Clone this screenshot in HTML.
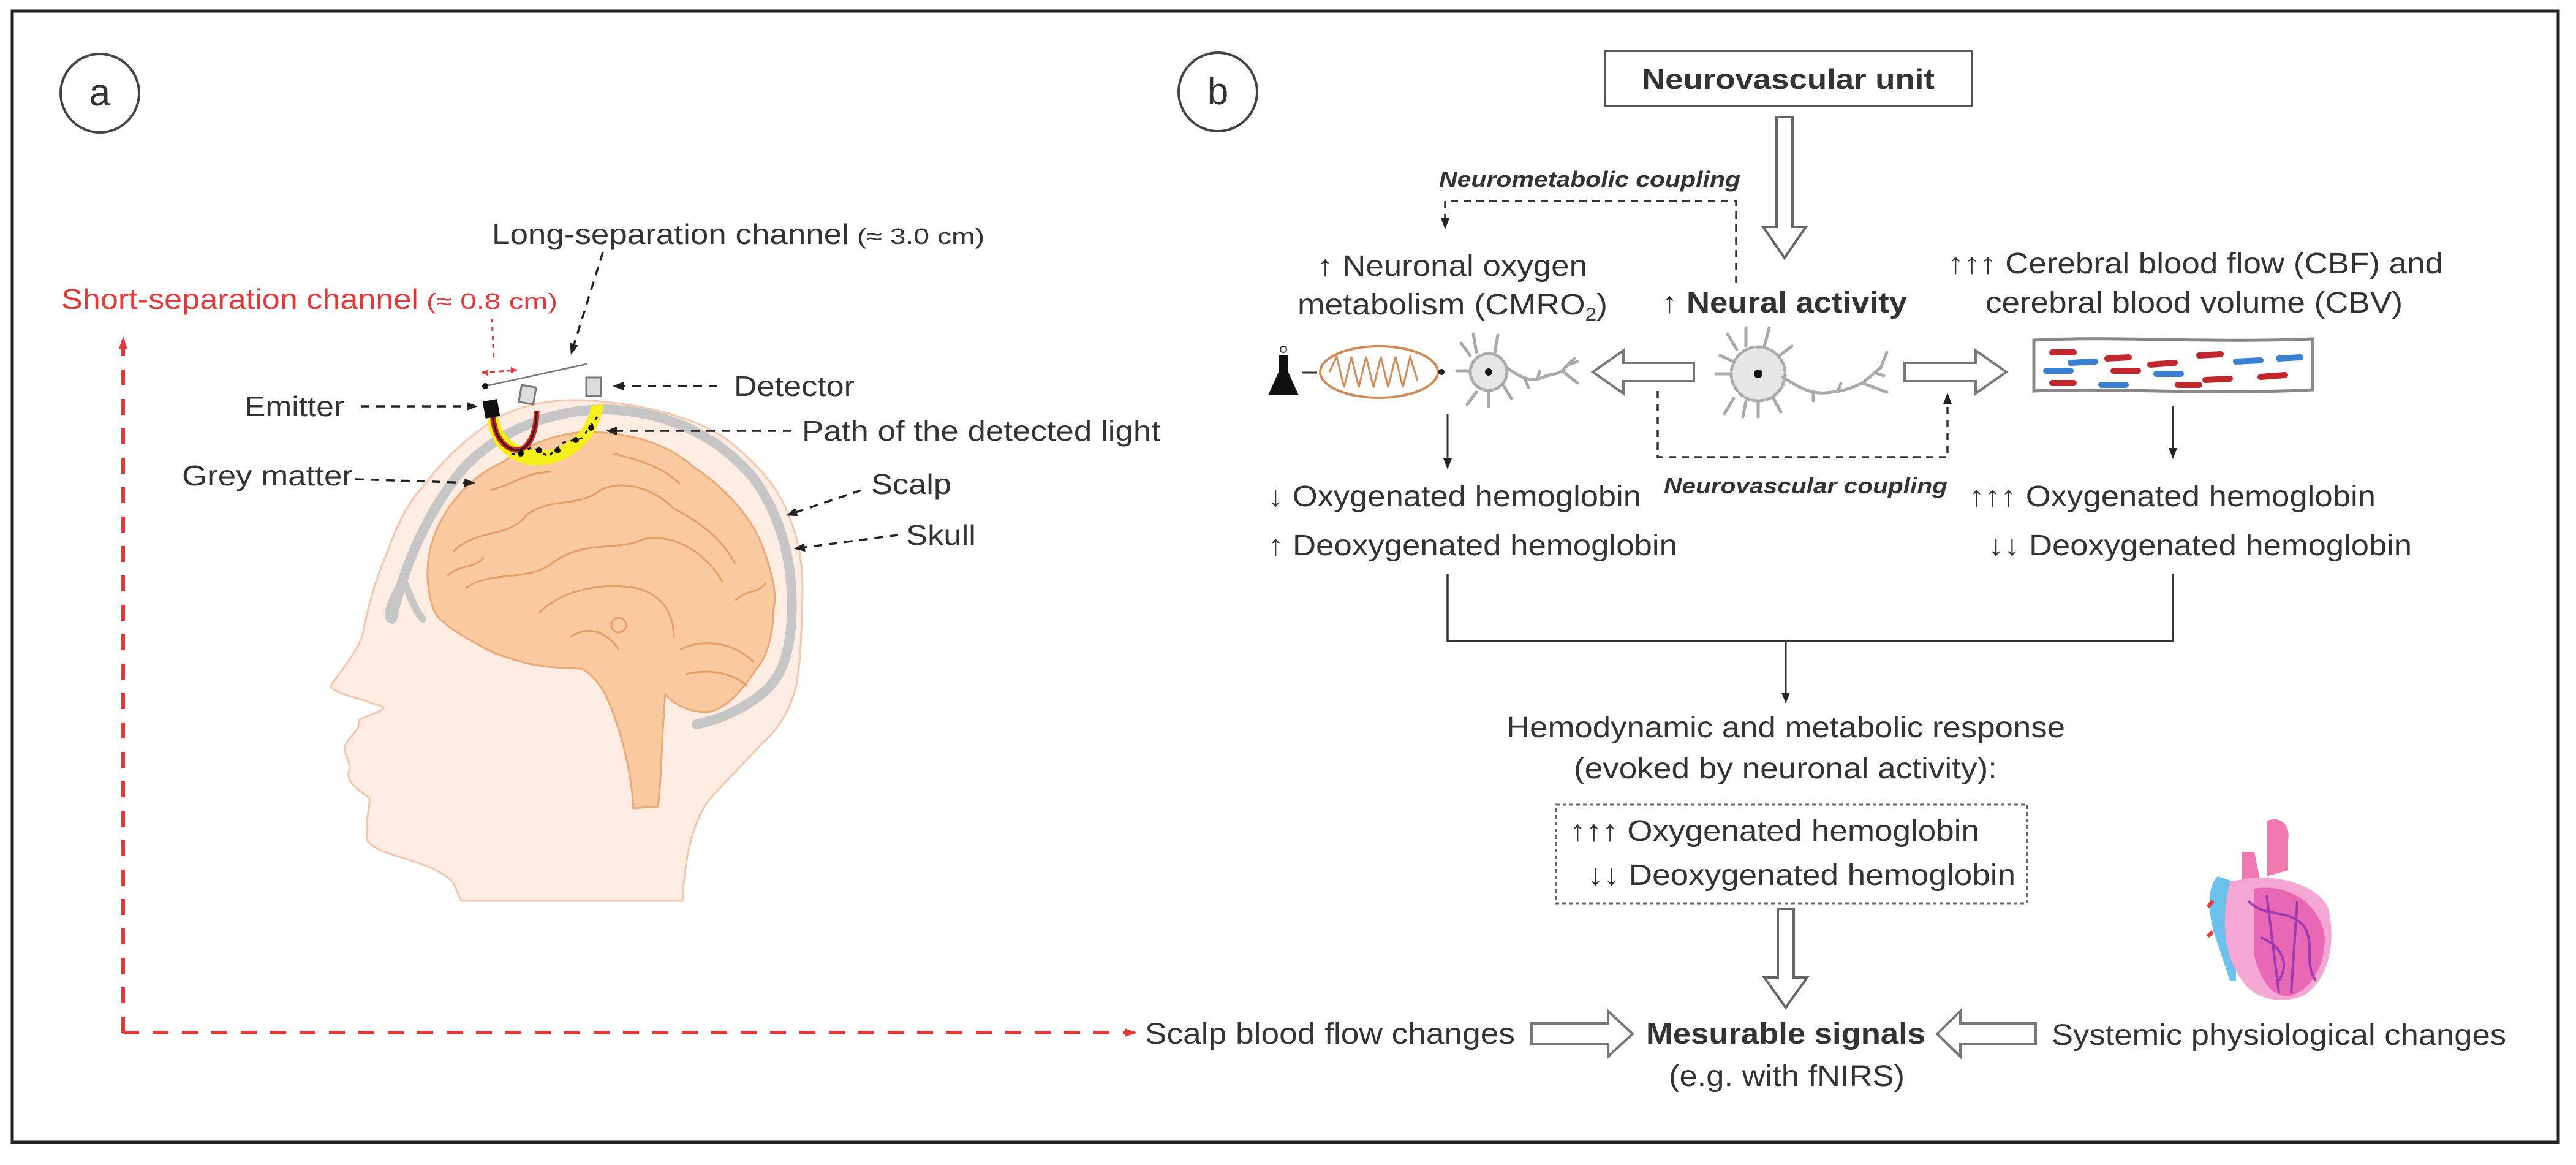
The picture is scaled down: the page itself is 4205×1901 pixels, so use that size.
<!DOCTYPE html>
<html><head><meta charset="utf-8"><style>
html,body{margin:0;padding:0;background:#fff;}
svg{display:block;}
text{font-family:"Liberation Sans",sans-serif;fill:#333;}
</style></head><body>
<svg width="4205" height="1901" viewBox="0 0 4205 1901" xmlns="http://www.w3.org/2000/svg">
<defs>
<marker id="abk" markerWidth="18" markerHeight="18" refX="14" refY="9" orient="auto" markerUnits="userSpaceOnUse"><path d="M0,2 L18,9 L0,16 z" fill="#222"/></marker>
<marker id="ar" markerWidth="20" markerHeight="20" refX="16" refY="10" orient="auto" markerUnits="userSpaceOnUse"><path d="M0,3 L20,10 L0,17 z" fill="#e03a3a"/></marker>
</defs>
<rect x="20" y="18" width="4156" height="1846" fill="none" stroke="#222" stroke-width="5"/>

<circle cx="163" cy="152" r="64" fill="none" stroke="#444" stroke-width="4"/>
<text x="163" y="172" font-size="62" text-anchor="middle">a</text>
<circle cx="1988" cy="150" r="64" fill="none" stroke="#444" stroke-width="4"/>
<text x="1988" y="170" font-size="62" text-anchor="middle">b</text>

<path d="M753,1470 L740,1440 C700,1400 620,1400 600,1372 C595,1340 605,1315 603,1302 C585,1290 565,1275 569,1260 C575,1245 560,1230 563,1218 C570,1200 590,1190 586,1175 C605,1165 626,1160 626,1154 C590,1140 540,1130 540,1119 C560,1090 585,1060 592,1035 C600,990 615,940 632,902 C650,850 670,815 689,796 C730,740 780,700 821,677 C880,650 940,650 988,656 C1080,665 1150,690 1189,719 C1240,760 1275,800 1292,853 C1310,900 1312,950 1309,993 C1308,1050 1305,1100 1298,1126 C1285,1170 1265,1195 1246,1211 C1210,1250 1180,1280 1160,1302 C1130,1340 1118,1400 1114,1470 Z" fill="#fdece2" stroke="#f0c8b0" stroke-width="3"/>
<path d="M640,1010 C660,920 700,830 760,760 C830,690 920,668 990,668 C1090,672 1170,710 1230,780 C1280,850 1296,930 1292,1010 C1288,1080 1270,1110 1246,1130 C1210,1160 1170,1175 1137,1182" fill="none" stroke="#c6c6c6" stroke-width="16" stroke-linecap="round"/>
<path d="M650,960 C640,980 630,1000 636,1010 M660,950 C670,975 680,1000 690,1010" fill="none" stroke="#c6c6c6" stroke-width="12" stroke-linecap="round"/>
<path d="M698,930 C700,850 760,780 821,754 C870,720 920,705 959,705 C1030,705 1090,725 1131,761 C1190,800 1230,850 1246,895 C1262,940 1268,970 1263,993 C1262,1040 1250,1075 1235,1091 C1210,1130 1185,1155 1160,1161 C1130,1165 1100,1150 1086,1133 C1080,1200 1080,1270 1074,1316 L1034,1319 C1030,1250 1010,1180 988,1133 C975,1110 960,1095 948,1091 C910,1090 890,1088 867,1084 C830,1075 800,1065 776,1049 C740,1030 712,1010 707,993 C700,970 697,950 698,930 Z" fill="#f9c9a0" stroke="#eaa978" stroke-width="3"/>
<g fill="none" stroke="#e59a62" stroke-width="3" opacity="0.9">
<path d="M740,900 C780,860 830,880 860,840 C900,810 940,830 980,800 C1020,780 1070,800 1100,830 C1140,850 1180,880 1200,920"/>
<path d="M760,960 C800,930 860,950 900,920 C950,880 1010,900 1050,880 C1100,870 1150,900 1180,950"/>
<path d="M880,1000 C920,960 990,950 1040,960 C1080,970 1100,1000 1100,1040"/>
<path d="M1110,1060 C1150,1040 1200,1050 1230,1080 M1120,1100 C1160,1090 1200,1100 1220,1120"/>
<path d="M800,800 C840,790 860,770 900,770 M1000,740 C1040,750 1080,760 1110,790"/>
<path d="M730,940 C750,920 770,930 790,910 M1200,980 C1220,960 1240,970 1250,950 M930,1040 C960,1020 990,1030 1010,1060"/>
<circle cx="1010" cy="1020" r="12"/>
</g>
<path d="M796,684 C800,740 850,765 890,758 C940,752 980,710 985,660 L965,662 C958,700 930,730 892,735 C850,738 818,715 815,682 Z" fill="#f5ef1a"/>
<path d="M804,677 C808,725 835,736 846,734 C866,732 876,700 876,670" fill="none" stroke="#d42020" stroke-width="9"/>
<path d="M804,677 C808,725 835,736 846,734 C866,732 876,700 876,670" fill="none" stroke="#222" stroke-width="3"/>
<path d="M835,742 L870,730 L895,745 L920,722 L950,715 L975,680" fill="none" stroke="#111" stroke-width="3" stroke-dasharray="6,8"/>
<g fill="#111"><circle cx="850" cy="740" r="5"/><circle cx="880" cy="735" r="5"/><circle cx="910" cy="735" r="5"/><circle cx="940" cy="718" r="5"/><circle cx="965" cy="698" r="5"/></g>
<rect x="790" y="653" width="24" height="28" fill="#111" transform="rotate(-10 802 667)"/>
<rect x="849" y="630" width="24" height="28" fill="#ddd" stroke="#777" stroke-width="3" transform="rotate(10 861 644)"/>
<rect x="957" y="616" width="24" height="30" fill="#ddd" stroke="#777" stroke-width="3"/>
<line x1="792" y1="630" x2="958" y2="594" stroke="#777" stroke-width="2.5"/>
<circle cx="792" cy="630" r="5" fill="#111"/>
<line x1="786" y1="608" x2="844" y2="604" stroke="#e03a3a" stroke-width="3" stroke-dasharray="8,6"/>
<path d="M786,608 l10,-5 v10 z M844,604 l-10,-5 v10z" fill="#e03a3a"/>
<line x1="803" y1="520" x2="806" y2="585" stroke="#e03a3a" stroke-width="3" stroke-dasharray="6,8"/>

<text x="803" y="398" font-size="46" textLength="583" lengthAdjust="spacingAndGlyphs">Long-separation channel</text>
<text x="1399" y="398" font-size="36" textLength="208" lengthAdjust="spacingAndGlyphs">(≈ 3.0 cm)</text>
<line x1="984" y1="412" x2="933" y2="575" stroke="#222" stroke-width="3.5" stroke-dasharray="14,11" marker-end="url(#abk)"/>
<text x="100" y="504" font-size="46" style="fill:#e03a3a" textLength="583" lengthAdjust="spacingAndGlyphs">Short-separation channel</text>
<text x="696" y="504" font-size="36" style="fill:#e03a3a" textLength="214" lengthAdjust="spacingAndGlyphs">(≈ 0.8 cm)</text>

<text x="399" y="679" font-size="46" textLength="163" lengthAdjust="spacingAndGlyphs">Emitter</text>
<line x1="589" y1="663" x2="776" y2="663" stroke="#222" stroke-width="3.5" stroke-dasharray="14,11" marker-end="url(#abk)"/>
<text x="1198" y="646" font-size="46" textLength="197" lengthAdjust="spacingAndGlyphs">Detector</text>
<line x1="1171" y1="630" x2="1004" y2="630" stroke="#222" stroke-width="3.5" stroke-dasharray="14,11" marker-end="url(#abk)"/>
<text x="1309" y="719" font-size="46" textLength="585" lengthAdjust="spacingAndGlyphs">Path of the detected light</text>
<line x1="1292" y1="703" x2="993" y2="703" stroke="#222" stroke-width="3.5" stroke-dasharray="14,11" marker-end="url(#abk)"/>
<text x="297" y="792" font-size="46" textLength="279" lengthAdjust="spacingAndGlyphs">Grey matter</text>
<line x1="580" y1="782" x2="772" y2="788" stroke="#222" stroke-width="3.5" stroke-dasharray="14,11" marker-end="url(#abk)"/>
<text x="1422" y="806" font-size="46" textLength="131" lengthAdjust="spacingAndGlyphs">Scalp</text>
<line x1="1406" y1="800" x2="1287" y2="840" stroke="#222" stroke-width="3.5" stroke-dasharray="14,11" marker-end="url(#abk)"/>
<text x="1479" y="889" font-size="46" textLength="114" lengthAdjust="spacingAndGlyphs">Skull</text>
<line x1="1466" y1="873" x2="1300" y2="895" stroke="#222" stroke-width="3.5" stroke-dasharray="14,11" marker-end="url(#abk)"/>

<polyline points="201,1685 201,553" fill="none" stroke="#e03a3a" stroke-width="6" stroke-dasharray="26,22" marker-end="url(#ar)"/>
<polyline points="201,1685 1852,1685" fill="none" stroke="#e03a3a" stroke-width="6" stroke-dasharray="26,22" marker-end="url(#ar)"/>

<rect x="2620" y="83" width="599" height="90" fill="#fff" stroke="#555" stroke-width="4"/>
<text x="2680" y="145" font-size="46" font-weight="bold" textLength="478" lengthAdjust="spacingAndGlyphs">Neurovascular unit</text>
<path d="M2900,191 L2926,191 L2926,370 L2948,370 L2913,421 L2878,370 L2900,370 Z" fill="#fff" stroke="#666" stroke-width="4"/>

<text x="2349" y="305" font-size="36" font-style="italic" font-weight="bold" textLength="492" lengthAdjust="spacingAndGlyphs">Neurometabolic coupling</text>
<polyline points="2834,462 2834,328 2359,328 2359,370" fill="none" stroke="#333" stroke-width="3.5" stroke-dasharray="12,9" marker-end="url(#abk)"/>

<text x="2150" y="450" font-size="48" textLength="441" lengthAdjust="spacingAndGlyphs">↑ Neuronal oxygen</text>
<text x="2118" y="513" font-size="48" textLength="506" lengthAdjust="spacingAndGlyphs">metabolism (CMRO<tspan font-size="30" dy="10">2</tspan><tspan dy="-10">)</tspan></text>
<text x="2712" y="510" font-size="48" textLength="401" lengthAdjust="spacingAndGlyphs">↑ <tspan font-weight="bold">Neural activity</tspan></text>
<text x="3179" y="446" font-size="48" textLength="809" lengthAdjust="spacingAndGlyphs">↑↑↑ Cerebral blood flow (CBF) and</text>
<text x="3241" y="510" font-size="48" textLength="681" lengthAdjust="spacingAndGlyphs">cerebral blood volume (CBV)</text>

<path d="M2088,580 L2102,580 L2102,605 L2120,645 L2070,645 L2088,605 Z" fill="#111"/>
<circle cx="2095" cy="570" r="5" fill="none" stroke="#333" stroke-width="2"/>
<line x1="2125" y1="608" x2="2150" y2="608" stroke="#333" stroke-width="3"/>
<ellipse cx="2251" cy="607" rx="96" ry="42" fill="#fff" stroke="#d08a5a" stroke-width="4"/>
<path d="M2170,607 l12,-25 l12,50 l12,-50 l12,50 l12,-50 l12,50 l12,-50 l12,50 l12,-50 l12,50 l12,-50 l12,40" fill="none" stroke="#d08a5a" stroke-width="3"/>
<circle cx="2353" cy="607" r="5" fill="#222"/>
<!-- small neuron -->
<g fill="none" stroke="#aaa" stroke-width="5" stroke-linecap="round">
<circle cx="2430" cy="607" r="30" fill="#e6e6e6" stroke-dasharray="6,4"/>
<path d="M2400,580 l-15,-20 M2410,575 l-5,-30 M2440,575 l5,-28 M2410,640 l-15,20 M2430,638 l0,25 M2455,630 l12,20 M2398,605 l-20,0"/>
<path d="M2460,600 C2480,615 2500,625 2520,615 C2530,610 2540,612 2550,605 L2570,585 M2550,605 L2575,625 M2560,595 l15,-5 M2490,620 l5,12 M2510,618 l3,-12"/>
</g>
<circle cx="2430" cy="607" r="6" fill="#111"/>
<path d="M2765,592 L2765,622 L2650,622 L2650,642 L2600,607 L2650,572 L2650,592 Z" fill="#fff" stroke="#777" stroke-width="4"/>
<!-- center neuron -->
<g fill="none" stroke="#aaa" stroke-width="5" stroke-linecap="round">
<circle cx="2870" cy="610" r="44" fill="#e6e6e6" stroke-dasharray="7,5"/>
<path d="M2835,570 l-15,-25 M2850,565 l0,-30 M2880,565 l8,-30 M2905,580 l20,-15 M2830,650 l-15,25 M2850,655 l-5,25 M2870,655 l0,25 M2895,650 l12,22 M2826,610 l-25,0 M2830,590 l-22,-10"/>
<path d="M2910,615 C2940,635 2960,645 2990,640 C3010,638 3025,632 3040,625 L3070,600 M3040,625 L3080,640 M3070,600 l10,-25 M2960,642 l0,12 M3000,638 l5,-12 M3060,608 l15,5"/>
</g>
<circle cx="2870" cy="610" r="7" fill="#111"/>
<path d="M3109,592 L3109,622 L3225,622 L3225,642 L3275,607 L3225,572 L3225,592 Z" fill="#fff" stroke="#777" stroke-width="4"/>
<path d="M3320,555 C3450,548 3600,560 3775,553 L3775,636 C3600,645 3450,632 3320,638 Z" fill="#fff" stroke="#888" stroke-width="5"/>
<g stroke-width="10" stroke-linecap="round">
<line x1="3350" y1="575" x2="3385" y2="575" stroke="#c0282d"/><line x1="3380" y1="592" x2="3420" y2="590" stroke="#3a7fd0"/>
<line x1="3440" y1="585" x2="3475" y2="583" stroke="#c0282d"/><line x1="3510" y1="595" x2="3550" y2="592" stroke="#c0282d"/>
<line x1="3590" y1="580" x2="3625" y2="578" stroke="#c0282d"/><line x1="3650" y1="590" x2="3690" y2="588" stroke="#3a7fd0"/>
<line x1="3340" y1="605" x2="3380" y2="605" stroke="#3a7fd0"/><line x1="3450" y1="605" x2="3490" y2="605" stroke="#c0282d"/>
<line x1="3520" y1="610" x2="3560" y2="610" stroke="#3a7fd0"/><line x1="3600" y1="620" x2="3640" y2="618" stroke="#c0282d"/>
<line x1="3350" y1="625" x2="3385" y2="625" stroke="#c0282d"/><line x1="3430" y1="628" x2="3470" y2="628" stroke="#3a7fd0"/>
<line x1="3555" y1="628" x2="3590" y2="628" stroke="#c0282d"/><line x1="3690" y1="615" x2="3730" y2="612" stroke="#c0282d"/>
<line x1="3720" y1="585" x2="3755" y2="583" stroke="#3a7fd0"/>
</g>

<polyline points="2706,638 2706,746 3179,746 3179,645" fill="none" stroke="#333" stroke-width="3.5" stroke-dasharray="12,9" marker-end="url(#abk)"/>
<text x="2716" y="805" font-size="36" font-style="italic" font-weight="bold" textLength="463" lengthAdjust="spacingAndGlyphs">Neurovascular coupling</text>

<line x1="2363" y1="676" x2="2363" y2="762" stroke="#333" stroke-width="3" marker-end="url(#abk)"/>
<line x1="3547" y1="663" x2="3547" y2="745" stroke="#333" stroke-width="3" marker-end="url(#abk)"/>

<text x="2069" y="826" font-size="48" textLength="610" lengthAdjust="spacingAndGlyphs">↓ Oxygenated hemoglobin</text>
<text x="2069" y="906" font-size="48" textLength="669" lengthAdjust="spacingAndGlyphs">↑ Deoxygenated hemoglobin</text>
<text x="3213" y="826" font-size="48" textLength="665" lengthAdjust="spacingAndGlyphs">↑↑↑ Oxygenated hemoglobin</text>
<text x="3245" y="906" font-size="48" textLength="692" lengthAdjust="spacingAndGlyphs">↓↓ Deoxygenated hemoglobin</text>

<polyline points="2363,937 2363,1046 3547,1046 3547,937" fill="none" stroke="#333" stroke-width="3.5"/>
<line x1="2915" y1="1046" x2="2915" y2="1144" stroke="#333" stroke-width="3" marker-end="url(#abk)"/>

<text x="2459" y="1203" font-size="48" textLength="912" lengthAdjust="spacingAndGlyphs">Hemodynamic and metabolic response</text>
<text x="2569" y="1270" font-size="48" textLength="691" lengthAdjust="spacingAndGlyphs">(evoked by neuronal activity):</text>

<rect x="2540" y="1313" width="769" height="161" fill="none" stroke="#666" stroke-width="3" stroke-dasharray="6,5"/>
<text x="2562" y="1372" font-size="48" textLength="669" lengthAdjust="spacingAndGlyphs">↑↑↑ Oxygenated hemoglobin</text>
<text x="2591" y="1444" font-size="48" textLength="699" lengthAdjust="spacingAndGlyphs">↓↓ Deoxygenated hemoglobin</text>

<path d="M2902,1483 L2928,1483 L2928,1595 L2950,1595 L2915,1644 L2880,1595 L2902,1595 Z" fill="#fff" stroke="#666" stroke-width="4"/>

<text x="1869" y="1703" font-size="48" textLength="604" lengthAdjust="spacingAndGlyphs">Scalp blood flow changes</text>
<path d="M2500,1670 L2625,1670 L2625,1650 L2665,1687 L2625,1724 L2625,1704 L2500,1704 Z" fill="#fff" stroke="#777" stroke-width="4"/>
<text x="2687" y="1703" font-size="48" font-weight="bold" textLength="456" lengthAdjust="spacingAndGlyphs">Mesurable signals</text>
<text x="2724" y="1772" font-size="48" textLength="385" lengthAdjust="spacingAndGlyphs">(e.g. with fNIRS)</text>
<path d="M3323,1670 L3200,1670 L3200,1650 L3162,1687 L3200,1724 L3200,1704 L3323,1704 Z" fill="#fff" stroke="#777" stroke-width="4"/>
<text x="3349" y="1705" font-size="48" textLength="742" lengthAdjust="spacingAndGlyphs">Systemic physiological changes</text>

<g>
<path d="M3700,1340 C3720,1330 3740,1345 3735,1370 L3735,1420 L3700,1430 Z" fill="#f07ab0"/>
<path d="M3660,1390 L3680,1390 L3690,1440 L3660,1450 Z" fill="#f07ab0"/>
<path d="M3620,1430 C3600,1450 3605,1500 3620,1540 L3640,1600 L3650,1600 L3650,1440 Z" fill="#6cc0ec"/>
<path d="M3640,1440 C3700,1420 3780,1440 3800,1480 C3815,1540 3800,1600 3760,1625 C3720,1640 3680,1630 3660,1600 C3630,1560 3625,1500 3640,1440 Z" fill="#f4a6d4"/>
<path d="M3680,1450 C3740,1440 3790,1480 3795,1530 C3795,1580 3770,1615 3740,1625 C3710,1630 3690,1600 3680,1560 Z" fill="#e24fa8" opacity="0.7"/>
<g fill="none" stroke="#8a2fb0" stroke-width="4" opacity="0.8">
<path d="M3670,1470 C3700,1500 3730,1480 3760,1510 C3780,1540 3760,1570 3780,1600"/>
<path d="M3690,1530 C3720,1540 3740,1570 3720,1600 M3700,1460 L3720,1620 M3750,1470 L3740,1620"/>
</g>
<path d="M3612,1470 l-8,10 M3612,1520 l-8,8" stroke="#e03a3a" stroke-width="6"/>
</g>
</svg>
</body></html>
